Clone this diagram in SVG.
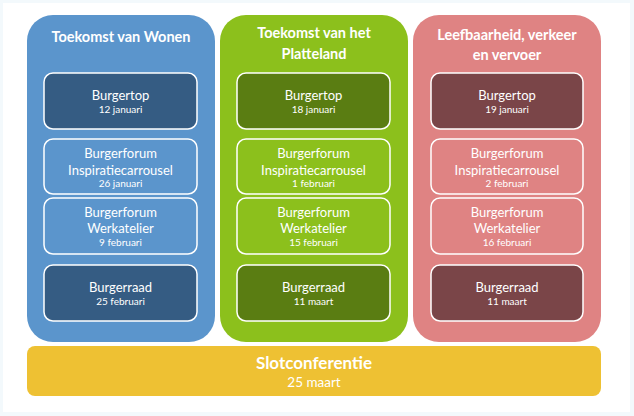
<svg xmlns="http://www.w3.org/2000/svg" width="634" height="416" viewBox="0 0 634 416">
<style>
.hdr{font-family:Lato,"Open Sans","Liberation Sans",sans-serif;font-weight:bold;font-size:14.5px;fill:#ffffff;text-anchor:middle}
.t{font-family:Lato,"Open Sans","Liberation Sans",sans-serif;font-size:13px;fill:#ffffff;text-anchor:middle}
.d{font-family:Lato,"Open Sans","Liberation Sans",sans-serif;font-size:10px;fill:#ffffff;text-anchor:middle}
.box{stroke:#ffffff;stroke-width:1.5}
.st{font-family:Lato,"Open Sans","Liberation Sans",sans-serif;font-weight:bold;font-size:17px;fill:#ffffff;text-anchor:middle}
.sd{font-family:Lato,"Open Sans","Liberation Sans",sans-serif;font-size:13.5px;fill:#ffffff;text-anchor:middle}
</style>
<rect x="0" y="0" width="634" height="416" fill="#f3f9fc"/>
<rect x="3" y="3" width="627" height="409" fill="#ffffff"/>

<g id="col-wonen">
<rect x="27" y="15" width="188" height="327" rx="26" fill="#5b95cc"/>
<text class="hdr" x="121" y="42">Toekomst van Wonen</text>
</g>
<g id="col-platteland">
<rect x="220" y="15" width="188" height="327" rx="26" fill="#8cc01c"/>
<text class="hdr" x="314" y="38">Toekomst van het</text>
<text class="hdr" x="314" y="59">Platteland</text>
</g>
<g id="col-leefbaarheid">
<rect x="413" y="15" width="188" height="327" rx="26" fill="#df8383"/>
<text class="hdr" x="507" y="40">Leefbaarheid, verkeer</text>
<text class="hdr" x="507" y="60">en vervoer</text>
</g>

<g id="w-burgertop"><rect class="box" x="44" y="73" width="153" height="56" rx="9" fill="#355c83"/>
<text class="t" x="120.5" y="100">Burgertop</text><text class="d" x="120.5" y="113">12 januari</text></g>
<g id="w-inspiratie"><rect class="box" x="44" y="139" width="153" height="55" rx="9" fill="#5b95cc"/>
<text class="t" x="120.5" y="158">Burgerforum</text><text class="t" x="120.5" y="175">Inspiratiecarrousel</text><text class="d" x="120.5" y="187">26 januari</text></g>
<g id="w-werkatelier"><rect class="box" x="44" y="198" width="153" height="56" rx="9" fill="#5b95cc"/>
<text class="t" x="120.5" y="217">Burgerforum</text><text class="t" x="120.5" y="233">Werkatelier</text><text class="d" x="120.5" y="246">9 februari</text></g>
<g id="w-burgerraad"><rect class="box" x="44" y="265" width="153" height="56" rx="9" fill="#355c83"/>
<text class="t" x="120.5" y="292">Burgerraad</text><text class="d" x="120.5" y="305">25 februari</text></g>

<g id="p-burgertop"><rect class="box" x="237" y="73" width="153" height="56" rx="9" fill="#5a7d12"/>
<text class="t" x="313.5" y="100">Burgertop</text><text class="d" x="313.5" y="113">18 januari</text></g>
<g id="p-inspiratie"><rect class="box" x="237" y="139" width="153" height="55" rx="9" fill="#8cc01c"/>
<text class="t" x="313.5" y="158">Burgerforum</text><text class="t" x="313.5" y="175">Inspiratiecarrousel</text><text class="d" x="313.5" y="187">1 februari</text></g>
<g id="p-werkatelier"><rect class="box" x="237" y="198" width="153" height="56" rx="9" fill="#8cc01c"/>
<text class="t" x="313.5" y="217">Burgerforum</text><text class="t" x="313.5" y="233">Werkatelier</text><text class="d" x="313.5" y="246">15 februari</text></g>
<g id="p-burgerraad"><rect class="box" x="237" y="265" width="153" height="56" rx="9" fill="#5a7d12"/>
<text class="t" x="313.5" y="292">Burgerraad</text><text class="d" x="313.5" y="305">11 maart</text></g>

<g id="l-burgertop"><rect class="box" x="431" y="73" width="152" height="56" rx="9" fill="#7a4548"/>
<text class="t" x="507" y="100">Burgertop</text><text class="d" x="507" y="113">19 januari</text></g>
<g id="l-inspiratie"><rect class="box" x="431" y="139" width="152" height="55" rx="9" fill="#df8383"/>
<text class="t" x="507" y="158">Burgerforum</text><text class="t" x="507" y="175">Inspiratiecarrousel</text><text class="d" x="507" y="187">2 februari</text></g>
<g id="l-werkatelier"><rect class="box" x="431" y="198" width="152" height="56" rx="9" fill="#df8383"/>
<text class="t" x="507" y="217">Burgerforum</text><text class="t" x="507" y="233">Werkatelier</text><text class="d" x="507" y="246">16 februari</text></g>
<g id="l-burgerraad"><rect class="box" x="431" y="265" width="152" height="56" rx="9" fill="#7a4548"/>
<text class="t" x="507" y="292">Burgerraad</text><text class="d" x="507" y="305">11 maart</text></g>

<g id="slotconferentie"><rect x="27" y="346" width="574" height="50" rx="8" fill="#eec133"/>
<text class="st" x="314" y="369">Slotconferentie</text><text class="sd" x="314" y="387">25 maart</text></g>

<g id="connectors"></g>
</svg>
